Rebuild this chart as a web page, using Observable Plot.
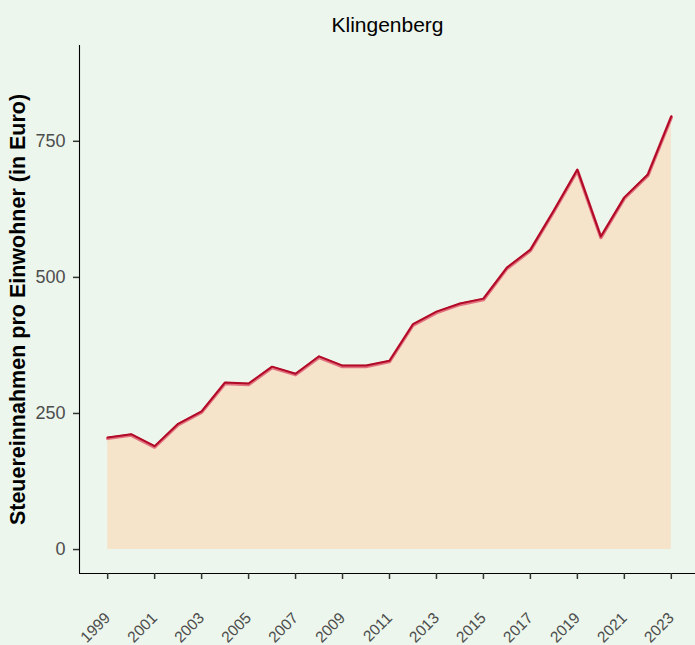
<!DOCTYPE html>
<html>
<head>
<meta charset="utf-8">
<script src="https://cdn.jsdelivr.net/npm/d3@7"></script>
<script src="https://cdn.jsdelivr.net/npm/@observablehq/plot@0.6"></script>
<style>
  html, body { margin: 0; padding: 0; background: #ECF6EC; }
  #chart svg { display: block; }
</style>
</head>
<body>
<div id="chart"></div>
<script>
const title = "Klingenberg";
const yLabel = "Steuereinnahmen pro Einwohner (in Euro)";
const years = [1999, 2000, 2001, 2002, 2003, 2004, 2005, 2006, 2007, 2008, 2009, 2010, 2011, 2012, 2013, 2014, 2015, 2016, 2017, 2018, 2019, 2020, 2021, 2022, 2023];
const values = [206, 212, 190, 231, 254, 307, 305, 336, 323, 355, 338, 338, 347, 414, 437, 452, 461, 518, 551, 623, 698, 575, 647, 689, 796];
const xTicks = [1999, 2001, 2003, 2005, 2007, 2009, 2011, 2013, 2015, 2017, 2019, 2021, 2023];
const yTicks = [0, 250, 500, 750];

const data = years.map((y, i) => ({year: y, value: values[i]}));
const xDomain = [1997.8, 2024.03];
const yDomain = [-44, 926];

const chart = Plot.plot({
  width: 695,
  height: 645,
  marginTop: 45,
  marginBottom: 72,
  marginLeft: 79,
  marginRight: 0,
  style: {background: "#ECF6EC", fontFamily: "'Liberation Sans', Arial, sans-serif", fontSize: "16px"},
  x: {domain: xDomain, label: null},
  y: {domain: yDomain, label: null},
  marks: [
    Plot.areaY(data, {x: "year", y: "value", fill: "#F5E3CA"}),
    Plot.line(data, {x: "year", y: "value", stroke: "#E2707F", strokeWidth: 3.4, dy: 1}),
    Plot.line(data, {x: "year", y: "value", stroke: "#B00A27", strokeWidth: 2}),
    Plot.ruleX([xDomain[0]], {stroke: "#000", strokeWidth: 1.1}),
    Plot.ruleY([yDomain[0]], {stroke: "#000", strokeWidth: 1.1}),
    Plot.axisY(yTicks, {tickSize: 6, tickPadding: 8, fontSize: 18, color: "#4D4D4D", stroke: "#333", strokeWidth: 1.5, label: null}),
    Plot.axisX(xTicks, {tickSize: 6, tickPadding: 36, fontSize: 15.5, color: "#4D4D4D", stroke: "#333", strokeWidth: 1.5, tickRotate: -45, tickFormat: d => String(d), label: null}),
    Plot.text([title], {frameAnchor: "top", dy: -20, fontSize: 21, fill: "#000", lineAnchor: "middle"}),
    Plot.text([yLabel], {frameAnchor: "left", dx: -61, rotate: -90, textAnchor: "middle", lineAnchor: "middle", fontSize: 21.5, fontWeight: "bold", fill: "#000"})
  ]
});
document.getElementById("chart").appendChild(chart);
</script>
</body>
</html>
